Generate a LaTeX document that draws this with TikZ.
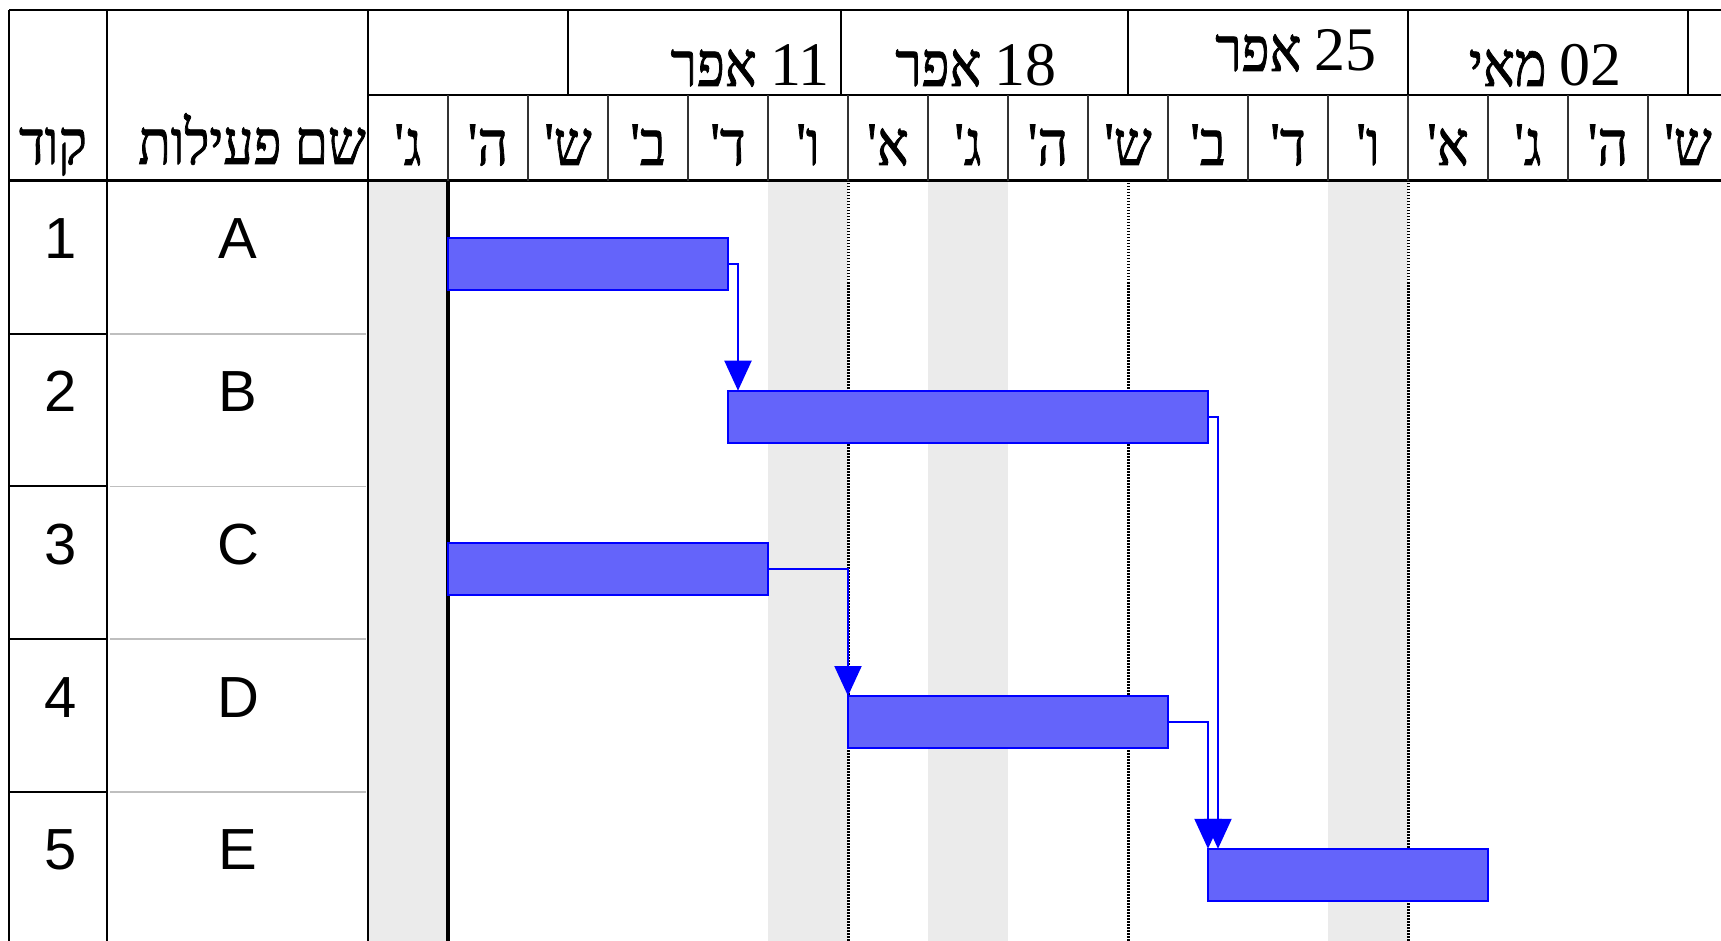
\documentclass[tikz,border=0pt]{standalone}
\usepackage{fontspec}
\setmainfont{Liberation Sans}
\newfontfamily\hebfont[Script=Hebrew,Ligatures=TeXOff,FakeStretch=0.86,FakeBold=1.2]{Liberation Serif}
\newfontfamily\numfont{Liberation Serif}
\usetikzlibrary{arrows.meta}
\TeXXeTstate=1
\newcommand{\heb}[1]{{\hebfont\beginR #1\endR}}
\newcommand{\wknum}[1]{\beginL{\numfont #1}\endL{}}
\definecolor{barblue}{RGB}{100,100,250}

\begin{document}
\begin{tikzpicture}[x=1pt,y=-1pt]
		\tikzset{
			gantbar/.style=
			{draw=blue,line width=2pt,fill=barblue,inner sep=0pt,outer sep=0pt,anchor=north west,minimum height=52pt},
			link/.style=
			{draw=blue,line width=2.1pt,-{Triangle[width=27pt,length=30pt]}},
			shadecol/.style={fill=black!8,draw=none},
			gridline/.style={line width=2pt},
			dayline/.style={line width=1.4pt,black!80},
			rowline/.style={line width=1.6pt,black!25},
			weekline/.style={line width=3pt,dash pattern=on 1.5pt off 1.5pt},
			daylabel/.style={font=\fontsize{62}{64}\selectfont,anchor=base,inner sep=0pt},
			weeklabel/.style={font=\fontsize{62}{64}\selectfont,anchor=base east,inner sep=0pt},
			celltext/.style={font=\fontsize{58}{60}\selectfont,anchor=base,inner sep=0pt},
		}
		\useasboundingbox (0,0) rectangle (1721,941);
		\clip (0,0) rectangle (1721,941);
		\begin{scope}
		\fill[shadecol] (368,181) rectangle (448,941);
		\fill[shadecol] (768,181) rectangle (848,941);
		\fill[shadecol] (928,181) rectangle (1008,941);
		\fill[shadecol] (1328,181) rectangle (1408,941);
		\end{scope}
		\begin{scope}
		\foreach \x in {848,1128,1408}
		\draw[weekline] (\x,183) -- (\x,941);
		\draw[line width=4.5pt] (448,181) -- (448,941);
		\end{scope}
		\begin{scope}
		\draw[gridline] (9,10) -- (1721,10);
		\draw[gridline] (368,95) -- (1721,95);
		\draw[line width=3pt] (9,181) -- (1721,181);
		\draw[gridline] (9,10) -- (9,941);
		\draw[gridline] (107,10) -- (107,941);
		\draw[gridline] (368,10) -- (368,941);
		\foreach \x in {568,841,1128,1408,1688}
		\draw[gridline] (\x,10) -- (\x,95);
		\foreach \i in {1,...,17}
		\draw[dayline] (368+80*\i,95) -- (368+80*\i,181);
		\foreach \y in {333.7,486.4,639,791.8}
		{
			\draw[gridline] (9,\y) -- (107,\y);
			\draw[rowline] (110,\y) -- (366,\y);
		}
		\end{scope}
		\begin{scope}
		\node[daylabel] (hcode) at (53,164) {\heb{קוד}};
		\node[weeklabel] (hname) at (366,164) {\heb{שם פעילות}};
		\node[weeklabel] (wk11) at (830,86) {\heb{\wknum{11} אפר}};
		\node[weeklabel] (wk18) at (1057,86) {\heb{\wknum{18} אפר}};
		\node[weeklabel] (wk25) at (1377,71) {\heb{\wknum{25} אפר}};
		\node[weeklabel] (wk02) at (1622,86) {\heb{\wknum{02} מאי}};
		\foreach \d [count=\i from 0] in {ג',ה',ש',ב',ד',ו',א',ג',ה',ש',ב',ד',ו',א',ג',ה',ש'}
		\node[daylabel] (day\i) at (408+80*\i,165) {\heb{\d}};
		\end{scope}
		\begin{scope}
		\node[celltext] (code1) at (61,259) {1};
		\node[celltext] (code2) at (61,411.7) {2};
		\node[celltext] (code3) at (61,564.4) {3};
		\node[celltext] (code4) at (61,717) {4};
		\node[celltext] (code5) at (61,869.8) {5};
		\node[celltext] (nameA) at (238,259) {A};
		\node[celltext] (nameB) at (238,411.7) {B};
		\node[celltext] (nameC) at (238,564.4) {C};
		\node[celltext] (nameD) at (238,717) {D};
		\node[celltext] (nameE) at (238,869.8) {E};
		\end{scope}
		\begin{scope}
		\node[gantbar,minimum width=280pt] (barA) at (448,238) {};
		\node[gantbar,minimum width=480pt] (barB) at (728,390.7) {};
		\node[gantbar,minimum width=320pt] (barC) at (448,543.4) {};
		\node[gantbar,minimum width=320pt] (barD) at (848,696) {};
		\node[gantbar,minimum width=280pt] (barE) at (1208,848.8) {};
		\draw[link] (barA.east) -| ([xshift=10pt]barA.east |- barB.north);
		\draw[link] (barC.east) -| (barD.north west);
		\draw[link] (barB.east) -| ([xshift=10pt]barB.east |- barE.north);
		\draw[link] (barD.east) -| (barE.north west);
		\end{scope}
		\end{tikzpicture}
\end{document}
